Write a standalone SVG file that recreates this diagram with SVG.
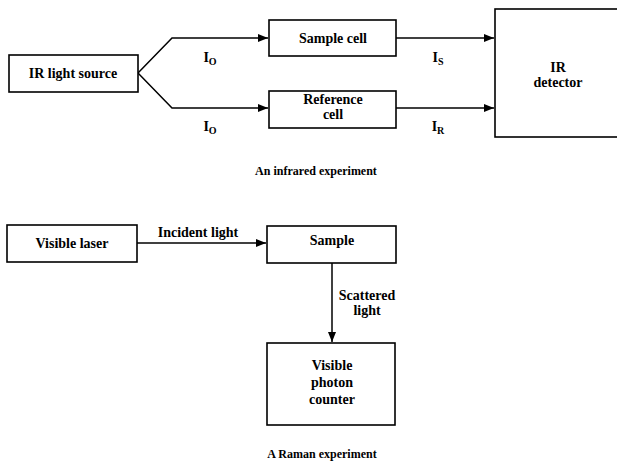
<svg xmlns="http://www.w3.org/2000/svg" width="617" height="465" viewBox="0 0 617 465">
<style>
.box{fill:#fff;stroke:#000;stroke-width:1.6}
.ln{fill:none;stroke:#000;stroke-width:1.5}
.t{font-family:"Liberation Serif","Times New Roman",serif;font-size:14px;font-weight:bold;fill:#000;text-anchor:middle}
.c{font-family:"Liberation Serif","Times New Roman",serif;font-size:12px;font-weight:bold;fill:#000;text-anchor:middle}
.sub{font-size:10px}
</style>
<defs>
<marker id="ah" viewBox="0 0 10 8" refX="10" refY="4" markerWidth="10" markerHeight="8" markerUnits="userSpaceOnUse" orient="auto">
<path d="M0,0 L10,4 L0,8 Z" fill="#000"/>
</marker>
</defs>
<rect width="617" height="465" fill="#fff"/>
<g id="connectors">
<polyline class="ln" points="138,73 172,38 268,38" marker-end="url(#ah)"/>
<polyline class="ln" points="138,73 172,108 268,108" marker-end="url(#ah)"/>
<line class="ln" x1="396" y1="38" x2="494" y2="38" marker-end="url(#ah)"/>
<line class="ln" x1="396" y1="108" x2="494" y2="108" marker-end="url(#ah)"/>
<line class="ln" x1="137" y1="243" x2="266" y2="243" marker-end="url(#ah)"/>
<line class="ln" x1="332" y1="263" x2="332" y2="342" marker-end="url(#ah)"/>
<text class="t" x="210" y="62">I<tspan class="sub" dy="3">O</tspan></text>
<text class="t" x="210" y="131">I<tspan class="sub" dy="3">O</tspan></text>
<text class="t" x="438" y="62">I<tspan class="sub" dy="3">S</tspan></text>
<text class="t" x="438" y="131">I<tspan class="sub" dy="3">R</tspan></text>
<text class="t" x="198" y="237">Incident light</text>
<text class="t" x="367" y="300">Scattered</text>
<text class="t" x="367" y="315">light</text>
</g>
<g id="ir-source">
<rect class="box" x="9" y="55" width="129" height="37"/>
<text class="t" x="73" y="78">IR light source</text>
</g>
<g id="sample-cell">
<rect class="box" x="269" y="20" width="127" height="36"/>
<text class="t" x="333" y="43">Sample cell</text>
</g>
<g id="reference-cell">
<rect class="box" x="269" y="91" width="127" height="37"/>
<text class="t" x="333" y="104">Reference</text>
<text class="t" x="333" y="119">cell</text>
</g>
<g id="ir-detector">
<rect class="box" x="495" y="9" width="130" height="128"/>
<text class="t" x="558" y="72">IR</text>
<text class="t" x="558" y="87">detector</text>
</g>
<g id="caption-ir">
<text class="c" x="316" y="175">An infrared experiment</text>
</g>
<g id="visible-laser">
<rect class="box" x="7" y="225" width="130" height="37"/>
<text class="t" x="72" y="248">Visible laser</text>
</g>
<g id="sample">
<rect class="box" x="267" y="226" width="129" height="37"/>
<text class="t" x="332" y="245">Sample</text>
</g>
<g id="photon-counter">
<rect class="box" x="267" y="343" width="128" height="82"/>
<text class="t" x="332" y="370">Visible</text>
<text class="t" x="332" y="387">photon</text>
<text class="t" x="332" y="404">counter</text>
</g>
<g id="caption-raman">
<text class="c" x="322" y="458">A Raman experiment</text>
</g>
</svg>
